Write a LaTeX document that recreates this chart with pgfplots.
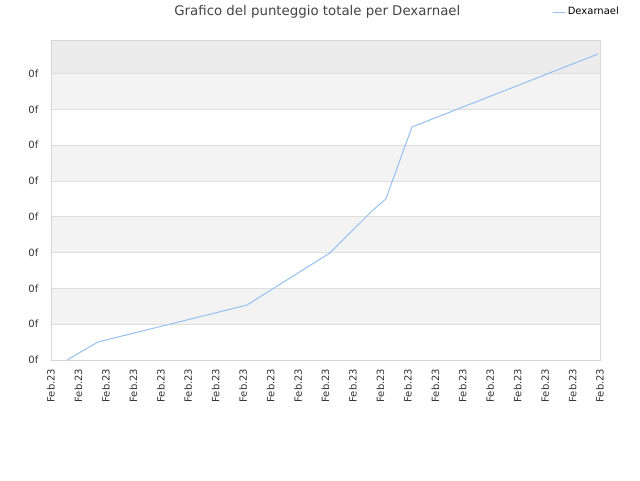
\documentclass[border=0pt]{standalone}
\usepackage{pgfplots}
\pgfplotsset{compat=1.18}
\usepackage{fontspec}
\setmainfont{DejaVu Sans}
\definecolor{linec}{HTML}{94C0F2}
\definecolor{textc}{HTML}{333333}
\definecolor{titlec}{HTML}{444444}
\definecolor{gridc}{HTML}{DEDEDE}
\definecolor{framec}{HTML}{D6D6D6}
\definecolor{band}{HTML}{F3F3F3}
\definecolor{topband}{HTML}{ECECEC}
\begin{document}
\begin{tikzpicture}[x=1pt,y=1pt]
\path (0,0) rectangle (480,360);
\node[text=titlec, font=\fontsize{10}{12}\selectfont] at (238,351) {Grafico del punteggio totale per Dexarnael};
\begin{axis}[
  set layers,
  at={(38.25pt,90pt)}, anchor=south west,
  scale only axis, width=411.75pt, height=240pt,
  xmin=0, xmax=20, ymin=0, ymax=8.94,
  xtick={0,...,20}, xticklabel={Feb.23},
  ytick={0,...,8}, yticklabel={0f},
  tick label style={text=textc, font=\fontsize{7.5}{9}\selectfont},
  x tick label style={rotate=90, anchor=east},
  y tick label style={anchor=east},
  xticklabel shift=3pt, yticklabel shift=6pt,
  ymajorgrids, grid style={color=gridc, line width=0.75pt},
  axis line style={color=framec, line width=0.75pt},
  major tick length=0pt, tick style={draw=none},
  legend style={at={(0.905,1.0875)}, anchor=west, draw=none, fill=none,
    font=\fontsize{7.5}{9}\selectfont, text=black},
  legend cell align=left,
  legend image code/.code={\path (0pt,0pt) -- (9pt,0pt);\draw[#1] (0pt,0pt) -- (5.5pt,0pt);},
]
\begin{pgfonlayer}{axis background}
\fill[topband] (axis cs:0,8) rectangle (axis cs:20,8.94);
\fill[band] (axis cs:0,7) rectangle (axis cs:20,8);
\fill[band] (axis cs:0,5) rectangle (axis cs:20,6);
\fill[band] (axis cs:0,3) rectangle (axis cs:20,4);
\fill[band] (axis cs:0,1) rectangle (axis cs:20,2);
\end{pgfonlayer}
\addplot[color=linec, line width=0.75pt] coordinates {
  (0.583,0) (1.712,0.503) (7.14,1.536) (10.16,2.99) (11.73,4.19)
  (12.20,4.50) (13.15,6.51) (19.93,8.55)
};
\addlegendentry{Dexarnael}
\end{axis}
\end{tikzpicture}
\end{document}
